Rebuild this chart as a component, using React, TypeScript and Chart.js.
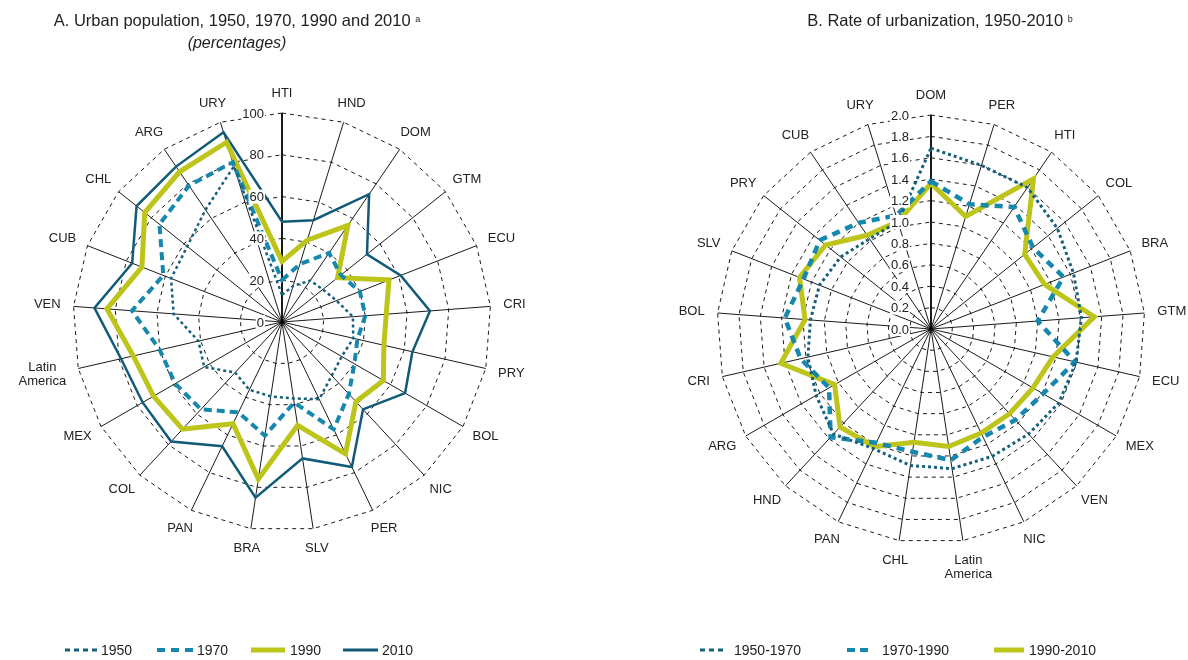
import React, { useEffect, useRef } from 'react';
import { Chart, registerables } from 'chart.js';

Chart.register(...registerables);

const FONT = '"Liberation Sans", Arial, Helvetica, sans-serif';

// ---------- Panel A: urban population (percentages) ----------
const categoriesA: (string | string[])[] = [
  'HTI', 'HND', 'DOM', 'GTM', 'ECU', 'CRI', 'PRY', 'BOL', 'NIC', 'PER', 'SLV',
  'BRA', 'PAN', 'COL', 'MEX', ['Latin', 'America'], 'VEN', 'CUB', 'CHL', 'ARG', 'URY',
];
const urban1950 = [13, 18, 24, 25, 28, 34, 35, 33, 35, 41, 37, 36, 36, 33, 43, 41, 52, 57, 58, 65, 78];
const urban1970 = [20, 29, 40, 36, 40, 40, 37, 40, 47, 57, 39, 55, 48, 57, 59, 60, 72, 61, 75, 79, 80];
const urban1990 = [29, 41, 56, 34, 55, 50, 50, 56, 52, 70, 50, 76, 54, 70, 71, 73, 84, 72, 84, 87, 90];
const urban2010 = [48, 51, 74, 52, 61, 71, 64, 68, 57, 77, 66, 85, 66, 78, 77, 79, 90, 77, 89, 90, 95];
const tickValuesA = [0, 20, 40, 60, 80, 100];
const tickLabelsA = ['0', '20', '40', '60', '80', '100'];

// ---------- Panel B: rate of urbanization ----------
const categoriesB: (string | string[])[] = [
  'DOM', 'PER', 'HTI', 'COL', 'BRA', 'GTM', 'ECU', 'MEX', 'VEN', 'NIC', ['Latin', 'America'],
  'CHL', 'PAN', 'HND', 'ARG', 'CRI', 'BOL', 'SLV', 'PRY', 'CUB', 'URY',
];
const rate1950to1970 = [1.69, 1.6, 1.6, 1.51, 1.43, 1.41, 1.39, 1.38, 1.34, 1.32, 1.32, 1.29, 1.24, 1.34, 1.24, 1.18, 1.13, 1.12, 1.08, 1.02, 1.05];
const rate1970to1990 = [1.38, 1.22, 1.38, 1.22, 1.33, 1.0, 1.38, 1.21, 1.16, 1.12, 1.24, 1.16, 1.18, 1.38, 1.1, 1.25, 1.37, 1.28, 1.33, 1.2, 1.11];
const rate1990to2010 = [1.36, 1.1, 1.7, 1.12, 1.14, 1.53, 1.17, 1.1, 1.08, 1.08, 1.11, 1.07, 1.22, 1.25, 1.04, 1.44, 1.18, 1.32, 1.26, 1.06, 1.05];
const tickValuesB = [0, 0.2, 0.4, 0.6, 0.8, 1.0, 1.2, 1.4, 1.6, 1.8, 2.0];
const tickLabelsB = ['0.0', '0.2', '0.4', '0.6', '0.8', '1.0', '1.2', '1.4', '1.6', '1.8', '2.0'];

const C_DOT = '#17607c';
const C_DASH = '#1687ad';
const C_YEL = '#bdc41a';
const C_DARK = '#115b78';

type DS = { label: string; data: number[]; color: string; width: number; dash: number[] };

const labelPlugin = (
  labels: (string | string[])[],
  tickValues: number[],
  tickLabels: string[],
  tickOffset: number,
) => ({
  id: 'customLabels',
  afterDraw(chart: any) {
    const scale = chart.scales.r;
    const ctx = chart.ctx as CanvasRenderingContext2D;
    ctx.save();
    ctx.font = `13px ${FONT}`;
    ctx.textAlign = 'center';
    ctx.textBaseline = 'middle';
    ctx.fillStyle = '#222';
    const lineH = 14;
    const gap = 13;
    labels.forEach((lab, i) => {
      const lines = Array.isArray(lab) ? lab : [lab];
      const w = Math.max(...lines.map((l) => ctx.measureText(l).width));
      const h = lines.length * lineH;
      const p = scale.getPointPosition(i, scale.drawingArea);
      const dx = (p.x - scale.xCenter) / scale.drawingArea;
      const dy = (p.y - scale.yCenter) / scale.drawingArea;
      const cx = p.x + dx * (gap + w / 2);
      const cy = p.y + dy * (gap + h / 2);
      lines.forEach((l, k) => ctx.fillText(l, cx, cy - h / 2 + lineH / 2 + k * lineH));
    });
    ctx.textAlign = 'right';
    tickValues.forEach((v, k) => {
      const r = scale.getDistanceFromCenterForValue(v);
      const y = scale.yCenter - r;
      const x = scale.xCenter - tickOffset;
      const tw = ctx.measureText(tickLabels[k]).width;
      ctx.fillStyle = '#fff';
      ctx.fillRect(x - tw - 1, y - 7, tw + 2, 14);
      ctx.fillStyle = '#222';
      ctx.fillText(tickLabels[k], x, y + 1);
    });
    ctx.restore();
  },
});

function Radar(props: {
  left: number;
  labels: (string | string[])[];
  datasets: DS[];
  cx: number;
  cy: number;
  radius: number;
  max: number;
  step: number;
  tickValues: number[];
  tickLabels: string[];
  tickOffset: number;
}) {
  const ref = useRef<HTMLCanvasElement>(null);
  useEffect(() => {
    if (!ref.current) return;
    const chart = new Chart(ref.current, {
      type: 'radar',
      data: {
        labels: props.labels.map((l) => (Array.isArray(l) ? l.join(' ') : l)),
        datasets: props.datasets.map((d) => ({
          label: d.label,
          data: d.data,
          borderColor: d.color,
          backgroundColor: 'transparent',
          borderWidth: d.width,
          borderDash: d.dash,
          fill: false,
          pointRadius: 0,
          pointHoverRadius: 0,
          tension: 0,
        })),
      },
      options: {
        responsive: false,
        animation: false,
        events: [],
        plugins: { legend: { display: false }, tooltip: { enabled: false } },
        scales: {
          r: {
            min: 0,
            max: props.max,
            ticks: { display: false, stepSize: props.step },
            pointLabels: { display: false },
            grid: { color: '#000', lineWidth: 0.9, borderDash: [4, 4] } as any,
            border: { dash: [4, 4] } as any,
            angleLines: {
              color: '#000',
              lineWidth: (c: any) => (c.index === 0 ? 1.8 : 0.9),
              borderDash: [],
            },
            afterFit: (s: any) => {
              s.xCenter = props.cx;
              s.yCenter = props.cy;
              s.drawingArea = props.radius;
            },
          } as any,
        },
      },
      plugins: [labelPlugin(props.labels, props.tickValues, props.tickLabels, props.tickOffset)],
    });
    return () => chart.destroy();
  }, []);
  return (
    <canvas
      ref={ref}
      width={594}
      height={660}
      style={{ position: 'absolute', left: props.left, top: 0, width: 594, height: 660 }}
    />
  );
}

function LegendLine(p: { left: number; width: number; color: string; sw: number; dash?: string }) {
  return (
    <svg width={p.width} height={10} style={{ position: 'absolute', left: p.left, top: 645 }}>
      <line x1={0} y1={5} x2={p.width} y2={5} stroke={p.color} strokeWidth={p.sw} strokeDasharray={p.dash} />
    </svg>
  );
}

function LegendText(p: { left: number; text: string }) {
  return (
    <div style={{ position: 'absolute', left: p.left, top: 641, fontSize: 14, lineHeight: '18px', color: '#222', whiteSpace: 'nowrap' }}>
      {p.text}
    </div>
  );
}

export default function App() {
  const dsA: DS[] = [
    { label: '1950', data: urban1950, color: C_DOT, width: 2.5, dash: [3, 3] },
    { label: '1970', data: urban1970, color: C_DASH, width: 4, dash: [8, 5] },
    { label: '1990', data: urban1990, color: C_YEL, width: 5, dash: [] },
    { label: '2010', data: urban2010, color: C_DARK, width: 2.5, dash: [] },
  ];
  const dsB: DS[] = [
    { label: '1950-1970', data: rate1950to1970, color: C_DOT, width: 3, dash: [3, 3] },
    { label: '1970-1990', data: rate1970to1990, color: C_DASH, width: 4.5, dash: [8, 6] },
    { label: '1990-2010', data: rate1990to2010, color: C_YEL, width: 5, dash: [] },
  ];
  return (
    <div style={{ position: 'absolute', left: 0, top: 0, width: 1188, height: 660, background: '#fff', fontFamily: FONT, overflow: 'hidden' }}>
      <Radar left={0} labels={categoriesA} datasets={dsA} cx={282} cy={322} radius={209} max={100} step={20}
        tickValues={tickValuesA} tickLabels={tickLabelsA} tickOffset={18} />
      <Radar left={594} labels={categoriesB} datasets={dsB} cx={337} cy={329} radius={214} max={2} step={0.2}
        tickValues={tickValuesB} tickLabels={tickLabelsB} tickOffset={22} />

      <div style={{ position: 'absolute', left: 0, width: 474, top: 10, textAlign: 'center', fontSize: 16.5, lineHeight: '20px', color: '#222', whiteSpace: 'nowrap' }}>
        A. Urban population, 1950, 1970, 1990 and 2010 <span style={{ fontSize: 9, verticalAlign: 'top', position: 'relative', top: -1 }}>a</span>
      </div>
      <div style={{ position: 'absolute', left: 0, width: 474, top: 34, textAlign: 'center', fontSize: 16, lineHeight: '18px', fontStyle: 'italic', color: '#222' }}>
        (percentages)
      </div>
      <div style={{ position: 'absolute', left: 700, width: 480, top: 10, textAlign: 'center', fontSize: 16.5, lineHeight: '20px', color: '#222', whiteSpace: 'nowrap' }}>
        B. Rate of urbanization, 1950-2010 <span style={{ fontSize: 9, verticalAlign: 'top', position: 'relative', top: -1 }}>b</span>
      </div>

      <LegendLine left={65} width={33} color={C_DOT} sw={3} dash="5 4" />
      <LegendText left={101} text="1950" />
      <LegendLine left={157} width={36} color={C_DASH} sw={4} dash="8 6" />
      <LegendText left={197} text="1970" />
      <LegendLine left={251} width={34} color={C_YEL} sw={5} />
      <LegendText left={290} text="1990" />
      <LegendLine left={343} width={35} color={C_DARK} sw={3} />
      <LegendText left={382} text="2010" />

      <LegendLine left={700} width={25} color={C_DOT} sw={3} dash="5 4" />
      <LegendText left={734} text="1950-1970" />
      <LegendLine left={847} width={21} color={C_DASH} sw={4} dash="8 5" />
      <LegendText left={882} text="1970-1990" />
      <LegendLine left={994} width={30} color={C_YEL} sw={5} />
      <LegendText left={1029} text="1990-2010" />
    </div>
  );
}
